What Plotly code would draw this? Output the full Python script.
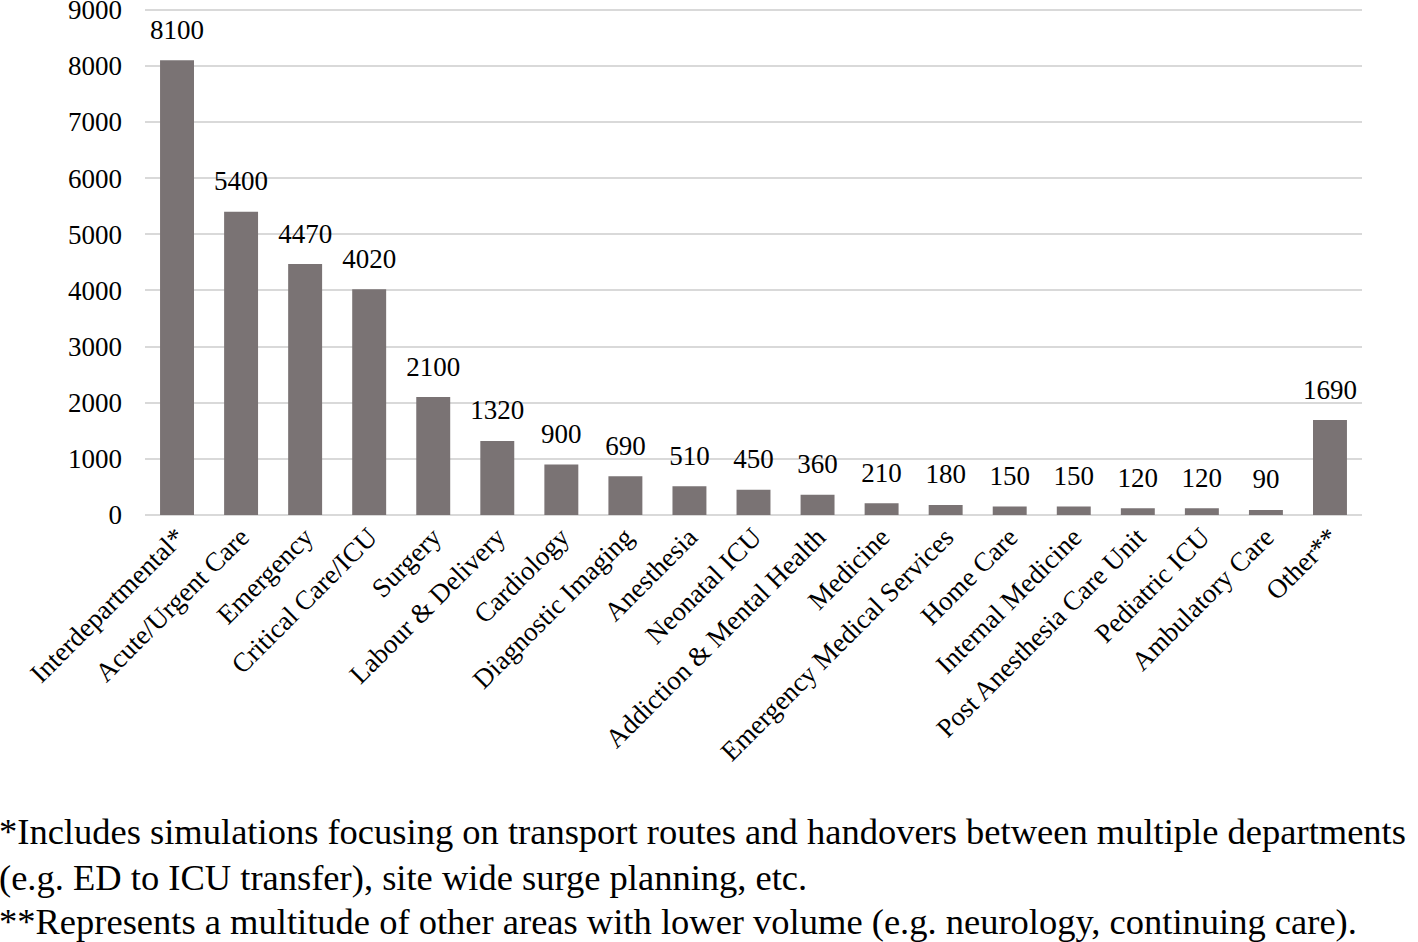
import plotly.graph_objects as go

categories = [
    "Interdepartmental*", "Acute/Urgent Care", "Emergency", "Critical Care/ICU",
    "Surgery", "Labour & Delivery", "Cardiology", "Diagnostic Imaging",
    "Anesthesia", "Neonatal ICU", "Addiction & Mental Health", "Medicine",
    "Emergency Medical Services", "Home Care", "Internal Medicine",
    "Post Anesthesia Care Unit", "Pediatric ICU", "Ambulatory Care", "Other**",
]
values = [8100, 5400, 4470, 4020, 2100, 1320, 900, 690, 510, 450, 360, 210,
          180, 150, 150, 120, 120, 90, 1690]
y_ticks = list(range(0, 9001, 1000))

footnotes = [
    "*Includes simulations focusing on transport routes and handovers between multiple departments",
    "(e.g. ED to ICU transfer), site wide surge planning, etc.",
    "**Represents a multitude of other areas with lower volume (e.g. neurology, continuing care).",
]

FONT = "Liberation Serif, Times New Roman, serif"

fig = go.Figure()
fig.add_trace(
    go.Bar(
        x=categories,
        y=values,
        marker=dict(color="#7a7374", line=dict(width=0)),
        hoverinfo="x+y",
    )
)
# value labels sit a bit higher above the bars than plotly's bar text,
# so use a text-only scatter with an invisible marker as spacer
fig.add_trace(
    go.Scatter(
        x=categories,
        y=values,
        mode="markers+text",
        marker=dict(size=22, opacity=0),
        text=[str(v) for v in values],
        textposition="top center",
        textfont=dict(family=FONT, size=27, color="black"),
        cliponaxis=False,
        hoverinfo="skip",
    )
)

# footnotes below the plot, positioned in paper coords
plot_left, plot_width = 145, 1217
plot_top, plot_bottom = 8, 515
for i, line in enumerate(footnotes):
    ypix = 832 + i * 45
    fig.add_annotation(
        text=line, xref="paper", yref="paper",
        x=-(plot_left + 3) / plot_width,
        y=(plot_bottom - ypix) / (plot_bottom - plot_top),
        xanchor="left", yanchor="middle", showarrow=False, align="left",
        font=dict(family=FONT, size=36.5, color="black"),
    )

fig.update_layout(
    width=1418, height=942,
    margin=dict(l=145, r=56, t=8, b=427, autoexpand=False),
    plot_bgcolor="white", paper_bgcolor="white",
    bargap=0.47,
    showlegend=False,
    font=dict(family=FONT, size=27, color="black"),
    xaxis=dict(
        range=[-0.5, len(categories) - 0.5],
        tickangle=-45, tickfont=dict(family=FONT, size=27, color="black"),
        showgrid=False, showline=False, ticks="", automargin=False,
    ),
    yaxis=dict(
        # small headroom so the 9000 gridline is not dropped at the edge
        range=[0, 9030], tickvals=y_ticks, showgrid=True, gridcolor="#d9d9d9",
        gridwidth=2, zeroline=True, zerolinecolor="#d9d9d9", zerolinewidth=2,
        tickfont=dict(family=FONT, size=27, color="black"),
        ticks="", ticklabelstandoff=22, automargin=False,
        ticklabeloverflow="allow",
    ),
)

fig.write_html(
    "out.html",
    config={"displayModeBar": False},
    post_script="document.body.style.margin='0';",
)
